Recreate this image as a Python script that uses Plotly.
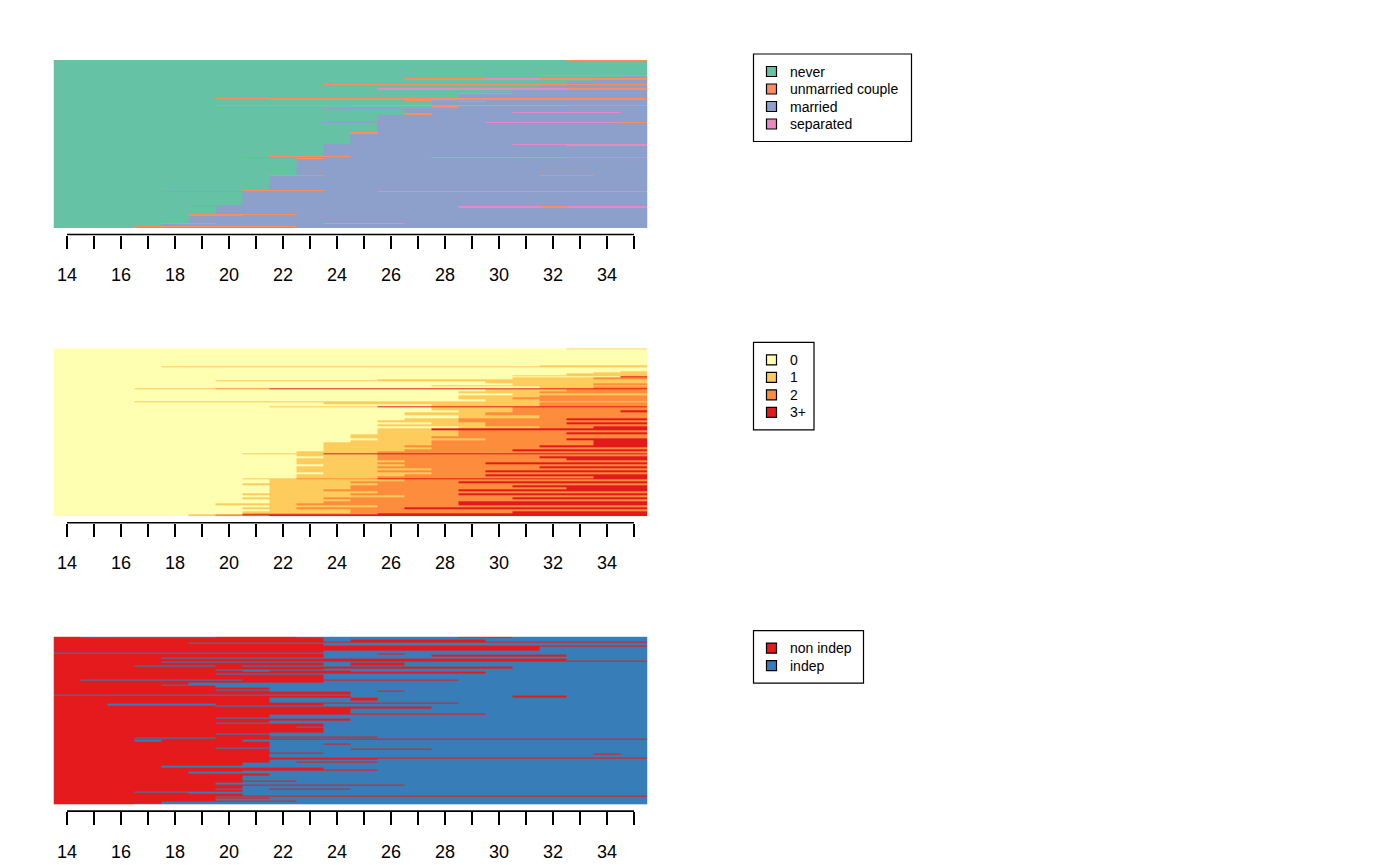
import plotly.graph_objects as go

# ---------------- data ----------------
AGES = list(range(14, 36))
TICK_TEXT = [str(a) if a % 2 == 0 else "" for a in AGES]

# Channel 1: marital status  (weight, run-length sequence over ages 14..35)
MAR_LABELS = ["never", "unmarried couple", "married", "separated"]
MAR_CODES = ["N", "U", "M", "S"]
MAR_COLORS = ["#66C2A5", "#FC8D62", "#8DA0CB", "#E78AC3"]
MAR_SEQ = [
    (1, "N:19 U:3"), (14, "N:22"), (1, "N:18 U:4"), (1, "N:21 M:1"), (1, "N:20 M:2"),
    (1.5, "N:13 U:3 S:2 U:4"), (1.5, "N:20 M:2"), (3, "N:19 M:3"), (1, "N:10 U:12"),
    (1, "N:18 M:4"), (2, "N:18 M:4"), (1.5, "N:12 S:7 U:3"), (2.5, "N:17 M:5"),
    (1, "N:16 M:6"), (1, "N:15 U:2 M:5"), (4, "N:15 M:7"), (1, "N:6 U:16"),
    (1, "N:8 U:6 S:1 U:7"), (1, "N:13 U:1 M:8"), (1, "N:15 U:1 M:6"), (3, "N:14 M:8"),
    (1, "N:6 U:5 S:8 U:3"), (2, "N:14 U:1 M:7"), (1, "N:10 M:12"), (3, "N:13 M:9"),
    (1, "N:13 M:4 S:4 M:1"), (2, "N:13 U:1 M:8"), (7, "N:12 M:10"),
    (1, "N:10 M:6 S:5 U:1"), (9, "N:12 M:10"), (2, "N:11 U:1 M:10"), (10, "N:11 M:11"),
    (1, "N:10 M:7 S:5"), (1, "N:10 M:9 S:3"), (10, "N:10 M:12"), (1, "N:8 U:3 M:11"),
    (1, "N:7 M:7 S:5 U:3"), (1, "N:9 U:1 M:12"), (16, "N:9 M:13"),
    (1, "N:8 U:2 M:8 U:2 M:2"), (14, "N:8 M:14"), (1, "N:7 U:3 M:12"),
    (1, "N:4 M:8 S:10"), (13, "N:7 M:15"), (1, "N:5 M:17"), (2, "N:6 M:9 S:3 U:1 S:3"),
    (6, "N:6 M:16"), (1, "N:5 U:4 M:13"), (1, "N:5 U:2 M:15"), (7, "N:5 M:17"),
    (1, "N:4 U:2 M:4 S:3 M:9"), (2, "N:4 M:18"), (1, "N:3 U:6 M:13"), (1, "N:3 M:19"),
]

# Channel 2: number of children
CHI_LABELS = ["0", "1", "2", "3+"]
CHI_CODES = ["0", "1", "2", "3"]
CHI_COLORS = ["#FFFFB2", "#FECC5C", "#FD8D3C", "#E31A1C"]
CHI_SEQ = [
    (1, "0:19 1:3"), (16, "0:22"), (1, "0:18 1:4"), (1, "0:4 1:18"), (4, "0:22"),
    (1, "0:21 1:1"), (1, "0:20 1:2"), (2, "0:19 1:3"), (1, "0:17 1:5"), (1, "0:21 3:1"),
    (2, "0:17 1:3 2:2"), (1, "0:12 1:10"), (1, "0:6 1:16"), (2, "0:16 1:6"),
    (2, "0:17 1:3 2:2"), (1, "0:14 1:8"), (2, "0:18 1:2 2:2"), (1, "0:3 1:3 2:2 3:14"),
    (2, "0:16 1:3 2:3"), (2, "0:15 1:3 2:4"), (2, "0:17 1:5"), (2, "0:15 1:3 2:4"),
    (2, "0:15 1:2 2:5"), (2, "0:16 1:2 2:4"), (1, "0:3 1:19"), (2, "0:10 1:8 2:4"),
    (2, "0:14 1:4 2:4"), (1, "0:8 1:4 3:10"), (3, "0:14 1:3 2:5"), (2, "0:15 1:2 2:4 3:1"),
    (3, "0:13 1:3 2:6"), (3, "0:15 1:3 2:4"), (2, "0:13 1:2 2:4 3:3"), (2, "0:12 1:3 2:7"),
    (2, "0:14 1:2 2:3 3:3"), (2, "0:12 1:4 2:6"), (2, "0:15 1:3 2:2 3:2"), (2, "0:12 1:2 3:8"),
    (2, "0:12 1:3 2:7"), (2, "0:12 1:3 2:4 3:3"), (2, "0:11 1:4 2:7"), (2, "0:11 1:3 2:8"),
    (2, "0:12 1:4 2:3 3:3"), (2, "0:11 1:3 2:6 3:2"), (3, "0:10 1:4 2:6 3:2"),
    (2, "0:10 1:3 2:5 3:4"), (2, "0:10 1:4 2:8"), (2, "0:10 1:3 2:4 3:5"), (2, "0:9 1:3 2:10"),
    (1, "0:7 1:3 3:12"), (2, "0:9 1:3 2:10"), (2, "0:10 1:2 2:6 3:4"), (2, "0:9 1:3 2:7 3:3"),
    (2, "0:9 1:4 2:9"), (2, "0:9 1:3 2:4 3:6"), (2, "0:10 1:3 2:9"), (2, "0:9 1:3 2:6 3:4"),
    (2, "0:9 1:5 2:8"), (2, "0:9 1:3 2:4 3:6"), (2, "0:10 1:4 2:8"), (2, "0:9 1:4 2:3 3:6"),
    (2, "0:9 1:3 2:8 3:2"), (1, "0:7 1:2 2:3 3:10"), (2, "0:8 1:5 2:9"), (2, "0:8 1:3 2:4 3:7"),
    (2, "0:7 1:5 2:10"), (2, "0:8 1:3 2:6 3:5"), (2, "0:8 1:3 2:8 3:3"), (2, "0:8 1:2 2:5 3:7"),
    (2, "0:8 1:4 2:10"), (2, "0:7 1:4 2:4 3:7"), (2, "0:8 1:5 2:9"), (2, "0:7 1:3 2:7 3:5"),
    (2, "0:8 1:3 2:11"), (2, "0:8 1:2 2:5 3:7"), (2, "0:6 1:3 2:6 3:7"), (2, "0:8 1:4 2:10"),
    (2, "0:7 1:2 2:4 3:9"), (2, "0:8 1:3 2:11"), (2, "0:7 1:4 2:6 3:5"), (1, "0:7 2:5 3:10"),
    (1, "0:5 1:1 2:1 3:15"), (1, "0:5 1:1 2:2 3:14"),
]

# Channel 3: left home
LEF_LABELS = ["non indep", "indep"]
LEF_CODES = ["D", "I"]
LEF_COLORS = ["#E41A1C", "#377EB8"]
LEF_SEQ = [
    (1, "D:1 I:5 D:3 I:6 D:2 I:5"), (2, "D:10 I:12"), (2, "D:10 I:1 D:5 I:6"), (1, "D:22"),
    (1, "D:5 I:17"), (2, "D:10 I:12"), (1, "D:22"), (4, "D:18 I:4"), (1.5, "D:10 I:12"),
    (1, "I:22"), (1.5, "D:10 I:2 D:1 I:9"), (2, "D:10 I:4 D:5 I:3"), (1, "D:10 I:12"),
    (1, "D:4 I:18"), (2, "D:19 I:3"), (1, "D:22"), (1, "D:4 I:18"), (3, "D:10 I:1 D:2 I:9"),
    (1, "D:3 I:3 D:1 I:15"), (1.5, "D:17 I:5"), (1.5, "D:10 I:12"), (1, "D:6 I:16"),
    (1, "D:7 I:1 D:3 I:11"), (2, "D:16 I:6"), (1, "D:6 I:16"), (5, "D:10 I:12"),
    (1, "D:1 I:6 D:8 I:7"), (2, "D:10 I:12"), (2, "D:5 I:17"), (1, "D:4 I:18"),
    (2, "D:6 I:16"), (2, "D:8 I:14"), (1, "D:6 I:16"), (1, "D:8 I:4 D:1 I:9"),
    (2.5, "D:11 I:11"), (1.5, "I:22"), (1.5, "D:11 I:6 D:2 I:3"), (3, "D:8 I:3 D:1 I:10"),
    (2.5, "D:8 I:14"), (1, "D:15 I:7"), (2, "D:2 I:4 D:4 I:12"), (1, "D:6 I:16"),
    (2, "D:14 I:8"), (5, "D:11 I:11"), (1, "D:16 I:6"), (3, "D:8 I:14"), (1, "D:6 I:16"),
    (2, "D:11 I:11"), (1.5, "D:8 I:14"), (1, "D:6 I:16"), (3.5, "D:10 I:12"), (1, "D:9 I:13"),
    (5, "D:10 I:12"), (1, "D:8 I:14"), (1, "D:6 I:16"), (2, "D:8 I:14"), (1, "D:12 I:10"),
    (1, "D:3 I:3 D:2 I:14"), (1, "D:22"), (1.5, "D:3 I:1 D:3 I:15"), (2, "D:8 I:14"),
    (1, "D:8 I:2 D:1 I:11"), (3.5, "D:8 I:14"), (1, "D:6 I:16"), (1, "D:8 I:3 D:3 I:8"),
    (3, "D:8 I:14"), (1, "D:10 I:12"), (1, "D:8 I:12 D:1 I:1"), (3, "D:8 I:14"), (1, "D:22"),
    (1, "D:12 I:10"), (2, "D:8 I:14"), (1, "D:8 I:1 D:3 I:10"), (3, "D:7 I:15"),
    (2, "D:4 I:18"), (2, "D:10 I:12"), (1, "D:12 I:10"), (1, "D:7 I:15"), (2, "D:5 I:17"),
    (2, "D:8 I:14"), (5, "D:7 I:15"), (1, "D:9 I:13"), (1, "D:7 I:15"), (2, "D:6 I:16"),
    (1, "D:13 I:9"), (3, "D:7 I:15"), (1, "D:6 I:2 D:3 I:11"), (2, "D:7 I:15"),
    (1, "D:3 I:19"), (1, "D:5 I:17"), (1.5, "D:7 I:15"), (1, "D:22"), (1.5, "D:6 I:16"),
    (1, "D:8 I:14"), (1.5, "D:6 I:16"), (1, "D:9 I:13"), (2, "D:4 I:18"), (0.5, "D:8 I:14"),
    (1, "D:3 I:19"),
]

# ---------------- helpers ----------------
W, H = 1392, 857          # page body has an 8px margin in the browser
OFF = 8.0
FONT = "Liberation Sans, Arial, Helvetica, sans-serif"


def fx(px):
    return (px - OFF) / W


def fy(py):
    return 1 - (py - OFF) / H


def parse(spec, codes):
    row = []
    for tok in spec.split():
        c, n = tok.split(":")
        row += [codes.index(c)] * int(n)
    row = (row + [row[-1]] * len(AGES))[:len(AGES)]
    return row


PANELS = [
    (MAR_LABELS, MAR_CODES, MAR_COLORS, MAR_SEQ, 911.5),
    (CHI_LABELS, CHI_CODES, CHI_COLORS, CHI_SEQ, 814.0),
    (LEF_LABELS, LEF_CODES, LEF_COLORS, LEF_SEQ, 863.5),
]
PANEL_TOPS = [60.0, 348.3, 636.6]
PANEL_H = 168.0
PLOT_L, PLOT_R = 53.5, 647.5
AXIS_GAP = 6.5

fig = go.Figure()
shapes = []
annotations = []
layout = {}

xedges = [a - 0.5 for a in AGES] + [AGES[-1] + 0.5]

for i, (labels, codes, colors, seq, leg_right) in enumerate(PANELS):
    k = len(labels)
    sfx = "" if i == 0 else str(i + 1)
    top = PANEL_TOPS[i]
    bottom = top + PANEL_H

    z = [parse(spec, codes) for _, spec in seq]
    yedges = [0.0]
    for w, _ in seq:
        yedges.append(yedges[-1] + w)
    total = yedges[-1]

    cs = []
    for j, c in enumerate(colors):
        cs.append([j / k, c])
        cs.append([(j + 1) / k, c])

    fig.add_trace(go.Heatmap(
        z=z, x=xedges, y=yedges, colorscale=cs, zmin=-0.5, zmax=k - 0.5,
        showscale=False, hoverinfo="skip", xaxis="x" + sfx, yaxis="y" + sfx,
    ))

    axis_y = fy(bottom + AXIS_GAP)
    layout["xaxis" + sfx] = dict(
        domain=[fx(PLOT_L), fx(PLOT_R)], range=[xedges[0], xedges[-1]],
        anchor="free", position=axis_y, showline=False, showgrid=False, zeroline=False,
        ticks="outside", ticklen=13, tickwidth=1.6, tickcolor="black",
        tickmode="array", tickvals=AGES, ticktext=TICK_TEXT,
        tickfont=dict(family=FONT, size=18, color="black"), ticklabelstandoff=11,
        fixedrange=True,
    )
    layout["yaxis" + sfx] = dict(
        domain=[fy(bottom), fy(top)], range=[total, 0], visible=False,
        anchor="x" + sfx, fixedrange=True,
    )
    # axis line spanning first to last age
    shapes.append(dict(type="line", xref="x" + sfx, yref="paper",
                       x0=AGES[0], x1=AGES[-1], y0=axis_y, y1=axis_y,
                       line=dict(color="black", width=1.6)))

    # legend box
    lt = top - 6
    lb = lt + 17.5 * (k + 1)
    shapes.append(dict(type="rect", xref="paper", yref="paper",
                       x0=fx(753.5), x1=fx(leg_right), y0=fy(lb), y1=fy(lt),
                       line=dict(color="black", width=1.2), fillcolor="white"))
    for j, (lab, col) in enumerate(zip(labels, colors)):
        cy = lt + 17.5 * (j + 1)
        shapes.append(dict(type="rect", xref="paper", yref="paper",
                           x0=fx(766.5), x1=fx(776.5), y0=fy(cy + 5), y1=fy(cy - 5),
                           line=dict(color="black", width=1.2), fillcolor=col))
        annotations.append(dict(xref="paper", yref="paper", x=fx(787.5), y=fy(cy),
                                text=lab, showarrow=False, xanchor="left", yanchor="middle",
                                font=dict(family=FONT, size=14, color="black")))

fig.update_layout(
    width=W, height=H, autosize=False,
    margin=dict(l=0, r=0, t=0, b=0),
    paper_bgcolor="white", plot_bgcolor="white",
    showlegend=False, shapes=shapes, annotations=annotations,
    **layout,
)

fig.write_html("out.html")
